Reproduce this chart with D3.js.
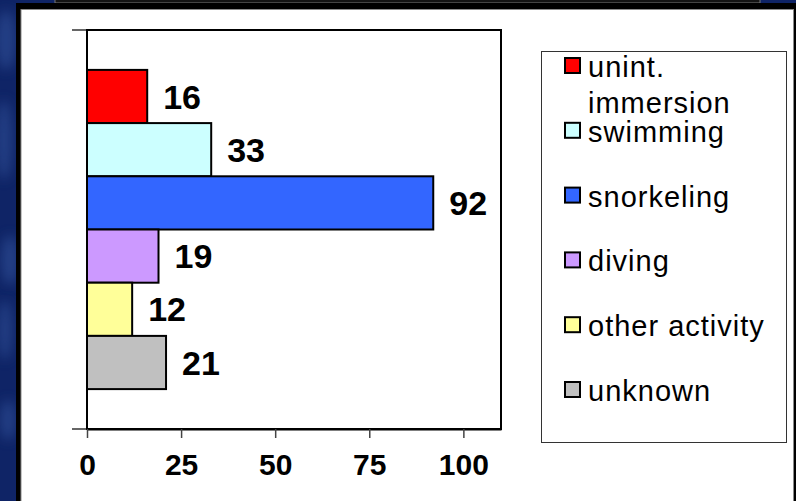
<!DOCTYPE html>
<html>
<head>
<meta charset="utf-8">
<script src="https://cdn.jsdelivr.net/npm/d3@7"></script>
<style>
  body { margin: 0; background: #0f2466; }
  svg { display: block; }
  text { font-family: Arial, "Liberation Sans", sans-serif; }
</style>
</head>
<body>
<div id="chart"></div>
<script>
// data
var categories = ["unint. immersion", "swimming", "snorkeling", "diving", "other activity", "unknown"];
var legendLines = [["unint.", "immersion"], ["swimming"], ["snorkeling"], ["diving"], ["other activity"], ["unknown"]];
var values = [16, 33, 92, 19, 12, 21];
var colors = ["#ff0000", "#ccffff", "#3366ff", "#cc99ff", "#ffff99", "#c0c0c0"];
var xTicks = [0, 25, 50, 75, 100];

var W = 796, H = 501;
var svg = d3.select("#chart").append("svg").attr("width", W).attr("height", H);

// slide background, dark blue with some soft mottling
var defs = svg.append("defs");
var blur = defs.append("filter").attr("id", "soft").attr("x", "-50%").attr("y", "-50%").attr("width", "200%").attr("height", "200%");
blur.append("feGaussianBlur").attr("stdDeviation", 6);
svg.append("rect").attr("width", W).attr("height", H).attr("fill", "#0f2466");
var blobs = [[6, 40, 10, 30], [4, 140, 8, 40], [10, 260, 9, 25], [5, 330, 7, 30], [8, 420, 8, 20], [790, 30, 6, 20]];
svg.selectAll(".blob").data(blobs).enter().append("ellipse")
  .attr("cx", function(d){ return d[0]; }).attr("cy", function(d){ return d[1]; })
  .attr("rx", function(d){ return d[2]; }).attr("ry", function(d){ return d[3]; })
  .attr("fill", "#3557a0").attr("opacity", 0.55).attr("filter", "url(#soft)");

// box poking in from above
svg.append("rect").attr("x", 55).attr("y", -6).attr("width", 705).attr("height", 9)
  .attr("fill", "#141414").attr("stroke", "#777").attr("stroke-width", 1);

// white panel with black frame
svg.append("rect").attr("x", 16).attr("y", 3).attr("width", 790).attr("height", 510).attr("fill", "#000");
svg.append("rect").attr("x", 21).attr("y", 9.5).attr("width", 772.5).attr("height", 500)
  .attr("fill", "#fff").attr("stroke", "#8a8a8a").attr("stroke-width", 1);

// plot area
var plotL = 87, plotR = 501, plotT = 30, plotB = 429;

var x = d3.scaleLinear().domain([0, 110]).range([plotL, plotR]);
var y = d3.scaleBand().domain(categories).range([plotT, plotB]).paddingInner(0).paddingOuter(0.75);

svg.append("rect").attr("x", plotL).attr("y", plotT).attr("width", plotR - plotL).attr("height", plotB - plotT)
  .attr("fill", "#fff").attr("stroke", "#000").attr("stroke-width", 2);

svg.selectAll(".bar").data(values).enter().append("rect")
  .attr("class", "bar")
  .attr("x", x(0))
  .attr("y", function(d, i){ return y(categories[i]); })
  .attr("width", function(d){ return x(d) - x(0); })
  .attr("height", y.bandwidth())
  .attr("fill", function(d, i){ return colors[i]; })
  .attr("stroke", "#000").attr("stroke-width", 2);

svg.selectAll(".val").data(values).enter().append("text")
  .attr("class", "val")
  .attr("x", function(d){ return x(d) + 16; })
  .attr("y", function(d, i){ return y(categories[i]) + y.bandwidth() / 2 + 12; })
  .attr("font-size", 34).attr("font-weight", "bold").attr("fill", "#000")
  .text(function(d){ return d; });

// y axis: only end ticks
svg.append("line").attr("x1", plotL).attr("x2", plotL).attr("y1", plotT).attr("y2", plotB)
  .attr("stroke", "#000").attr("stroke-width", 2);
svg.selectAll(".ytick").data([plotT, plotB]).enter().append("line")
  .attr("x1", plotL - 15).attr("x2", plotL).attr("y1", function(d){ return d; }).attr("y2", function(d){ return d; })
  .attr("stroke", "#000").attr("stroke-width", 1.2);

// x axis
var xAxis = d3.axisBottom(x).tickValues(xTicks).tickSize(9).tickPadding(16).tickSizeOuter(0);
var gx = svg.append("g").attr("transform", "translate(0," + plotB + ")").call(xAxis);
gx.select(".domain").attr("stroke", "#000").attr("stroke-width", 2);
gx.selectAll(".tick line").attr("stroke", "#444").attr("stroke-width", 1.5);
gx.selectAll(".tick text").attr("font-size", 30).attr("font-weight", "bold").attr("fill", "#000")
  .attr("font-family", "Arial, 'Liberation Sans', sans-serif");

// legend
svg.append("rect").attr("x", 541.5).attr("y", 51.5).attr("width", 245).attr("height", 391)
  .attr("fill", "#fff").attr("stroke", "#333").attr("stroke-width", 1);

var ly = d3.scalePoint().domain(categories).range([77, 401]);
var items = svg.selectAll(".leg").data(categories).enter().append("g").attr("class", "leg");
items.append("rect")
  .attr("x", 565).attr("y", function(d){ return ly(d) - 19; })
  .attr("width", 15).attr("height", 15)
  .attr("fill", function(d, i){ return colors[i]; })
  .attr("stroke", "#000").attr("stroke-width", 2);
items.append("text")
  .attr("x", 588).attr("y", function(d){ return ly(d); })
  .attr("font-size", 29).attr("letter-spacing", 1).attr("fill", "#000")
  .selectAll("tspan").data(function(d, i){ return legendLines[i]; }).enter().append("tspan")
  .attr("x", 588).attr("dy", function(d, j){ return j === 0 ? 0 : 36; })
  .text(function(d){ return d; });
</script>
</body>
</html>
